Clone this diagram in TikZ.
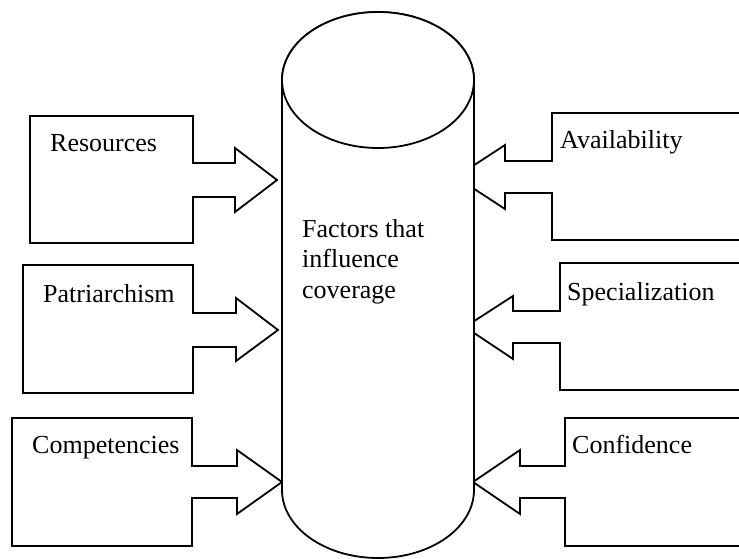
\documentclass[tikz,border=0pt]{standalone}
\usepackage{fontspec}
\setmainfont{Liberation Serif}
\begin{document}
\begin{tikzpicture}[x=1pt,y=-1pt,
  shapeline/.style={draw=black,line width=1.8pt,line join=miter,fill=white},
  lbl/.style={font=\fontsize{26}{30.5}\selectfont,inner sep=0pt,anchor=base west}]
\useasboundingbox (0,0) rectangle (739,559);
\clip (0,0) rectangle (739,559);
\fill[white] (0,0) rectangle (739,559);
% left arrow boxes
\draw[shapeline] (30,116) -- (193,116) -- (193,163) -- (235,163) -- (235,148) -- (277,180) -- (235,212) -- (235,197) -- (193,197) -- (193,243) -- (30,243) -- cycle;
\draw[shapeline] (23,265) -- (193,265) -- (193,313) -- (236,313) -- (236,298) -- (278,330) -- (236,361) -- (236,347) -- (193,347) -- (193,393) -- (23,393) -- cycle;
\draw[shapeline] (12,418) -- (192,418) -- (192,466) -- (237,466) -- (237,450) -- (282,482) -- (237,514) -- (237,498) -- (192,498) -- (192,546) -- (12,546) -- cycle;
% right arrow boxes
\draw[shapeline] (745,113) -- (552,113) -- (552,161) -- (505,161) -- (505,145) -- (456,177) -- (505,209) -- (505,193) -- (552,193) -- (552,240) -- (745,240);
\draw[shapeline] (745,263) -- (560,263) -- (560,311) -- (513,311) -- (513,296) -- (465,327) -- (513,359) -- (513,343) -- (560,343) -- (560,390) -- (745,390);
\draw[shapeline] (745,418) -- (565,418) -- (565,466) -- (520,466) -- (520,450) -- (473,482) -- (520,514) -- (520,498) -- (565,498) -- (565,546) -- (745,546);
% cylinder
\draw[shapeline] (282,80) -- (282,490) arc[start angle=180,end angle=0,x radius=96,y radius=68] -- (474,80) arc[start angle=0,end angle=-180,x radius=96,y radius=68] -- cycle;
\draw[shapeline] (378,80) ellipse [x radius=96,y radius=68];
% labels
\node[lbl] (res) at (50,152) {Resources};
\node[lbl] (pat) at (43,302) {Patriarchism};
\node[lbl] (com) at (32,453) {Competencies};
\node[lbl] (ava) at (560,149) {Availability};
\node[lbl] (spe) at (567,300) {Specialization};
\node[lbl] (con) at (572,453) {Confidence};
\node[lbl,anchor=north west,align=left] (fac) at (302,219) {Factors that\\influence\\coverage};
\end{tikzpicture}
\end{document}
